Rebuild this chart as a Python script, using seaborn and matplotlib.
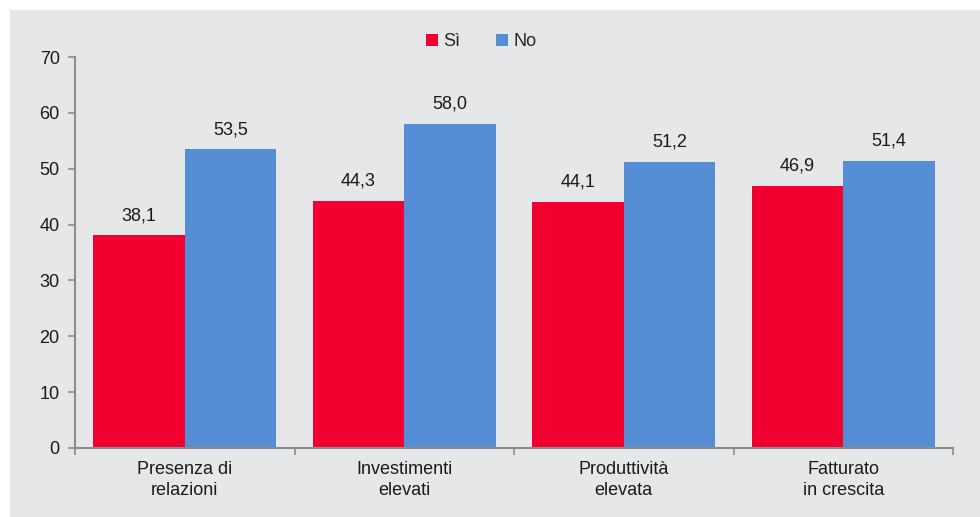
import matplotlib
matplotlib.use("Agg")
import matplotlib.pyplot as plt
import seaborn as sns
import pandas as pd
from matplotlib.patches import Rectangle
from matplotlib.ticker import FixedLocator

categories = ["Presenza di\nrelazioni", "Investimenti\nelevati", "Produttività\nelevata", "Fatturato\nin crescita"]
series_names = ["Sì", "No"]
si_values = [38.1, 44.3, 44.1, 46.9]
no_values = [53.5, 58.0, 51.2, 51.4]
y_ticks = [0, 10, 20, 30, 40, 50, 60, 70]

colors = ["#F20030", "#558ED5"]
bg = "#E6E7E9"
axis_col = "#8C8C8C"

df = pd.DataFrame({
    "cat": categories * 2,
    "serie": [series_names[0]] * 4 + [series_names[1]] * 4,
    "val": si_values + no_values,
})

sns.set_theme(style="white")
plt.rcParams["font.family"] = ["Liberation Sans", "DejaVu Sans"]

fig = plt.figure(figsize=(9.8, 5.17), dpi=100)
fig.patch.set_facecolor("white")
fig.patches.append(Rectangle((10 / 980, 0), 1 - 10 / 980, 1 - 10 / 517,
                             transform=fig.transFigure, facecolor=bg,
                             edgecolor="none", zorder=-10))
ax = fig.add_axes([75 / 980, 1 - 448 / 517, (953 - 75) / 980, (448 - 57) / 517])
ax.set_facecolor("none")

sns.barplot(data=df, x="cat", y="val", hue="serie", palette=colors,
            width=0.834, ax=ax, saturation=1, edgecolor="none")

for cont in ax.containers:
    labels = [f"{v:.1f}".replace(".", ",") for v in cont.datavalues]
    ax.bar_label(cont, labels=labels, padding=8, fontsize=13, color="#1a1a1a")

ax.set_xlim(-0.5, 3.5)
ax.set_ylim(0, 70)
ax.set_yticks(y_ticks)
ax.set_xlabel("")
ax.set_ylabel("")
ax.tick_params(axis="y", which="major", length=5, width=1.2, color=axis_col,
               direction="out", labelsize=13, labelcolor="#1a1a1a", pad=6, left=True)
ax.tick_params(axis="x", which="major", length=0, labelsize=13, labelcolor="#1a1a1a", pad=9)
for t in ax.get_xticklabels():
    t.set_linespacing(1.35)
ax.xaxis.set_minor_locator(FixedLocator([-0.5, 0.5, 1.5, 2.5, 3.5]))
ax.tick_params(axis="x", which="minor", length=5, width=1.2, color=axis_col,
               direction="out", bottom=True)

for s in ["top", "right"]:
    ax.spines[s].set_visible(False)
for s in ["left", "bottom"]:
    ax.spines[s].set_color(axis_col)
    ax.spines[s].set_linewidth(1.5)

handles, lbls = ax.get_legend_handles_labels()
ax.legend(handles, lbls, loc="center", bbox_to_anchor=(0.491, 1 - 42 / 517),
          bbox_transform=fig.transFigure, ncol=2, frameon=False, fontsize=13,
          handlelength=0.65, handleheight=0.65, handletextpad=0.3, columnspacing=2.0)

fig.savefig("out.png", dpi=100)
